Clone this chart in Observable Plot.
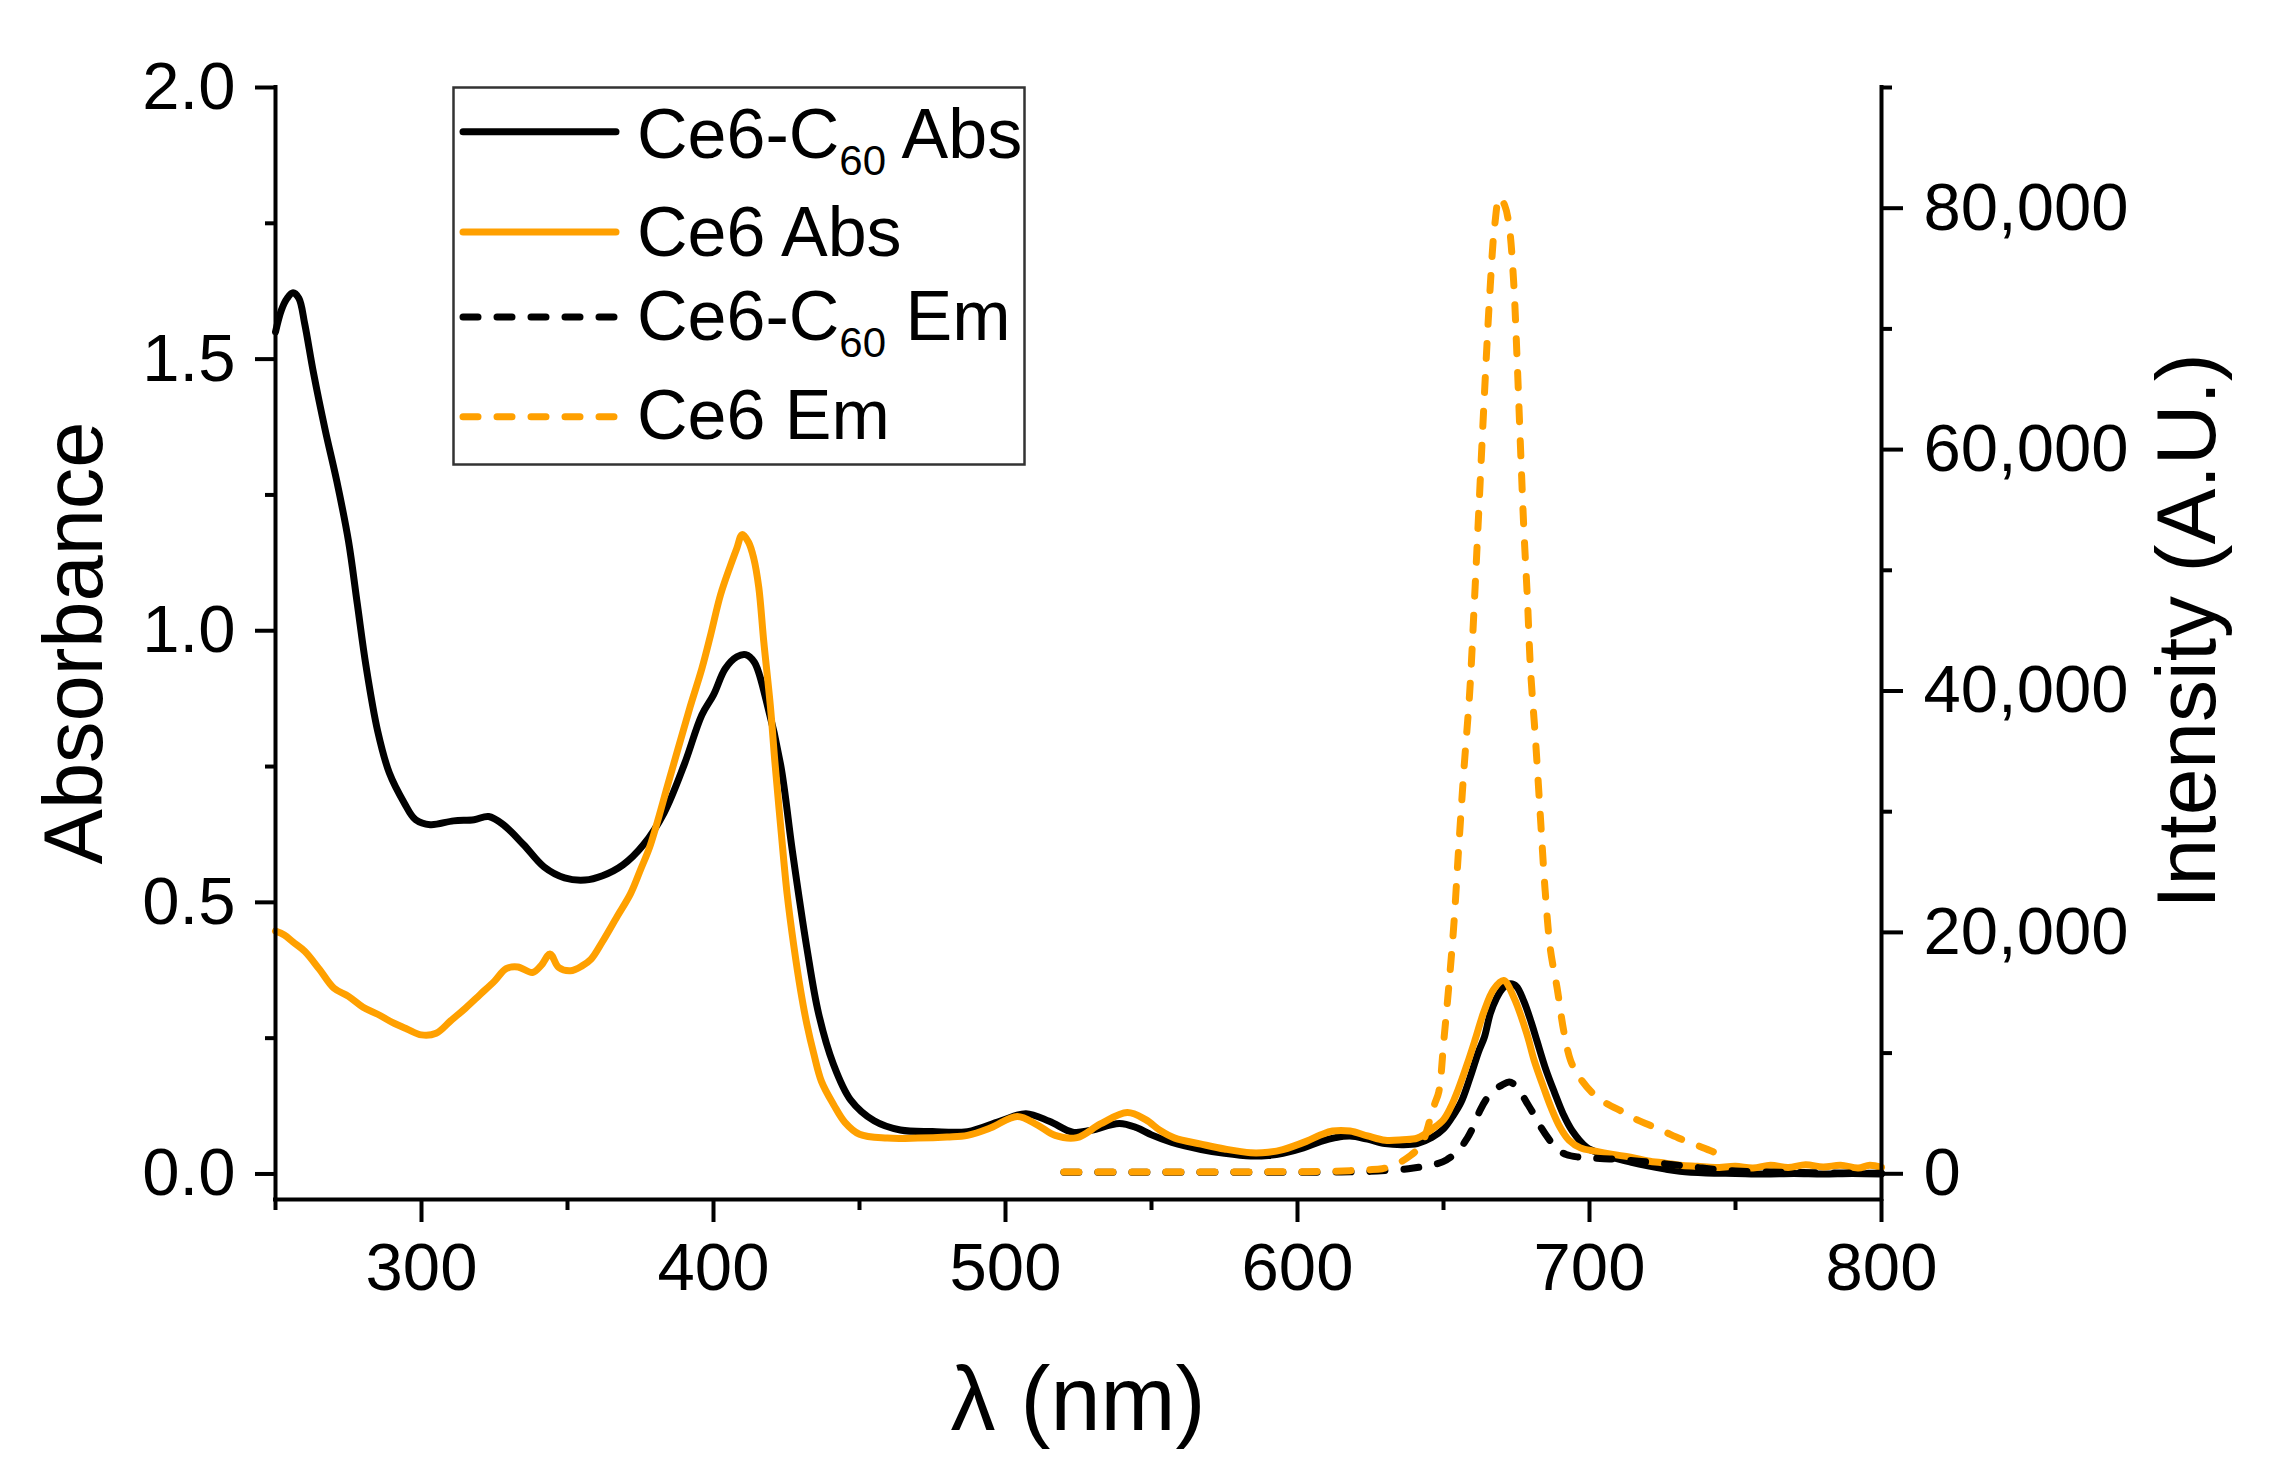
<!DOCTYPE html>
<html><head><meta charset="utf-8">
<script src="https://cdn.jsdelivr.net/npm/d3@7"></script>
<script src="https://cdn.jsdelivr.net/npm/@observablehq/plot@0.6"></script>
<style>body{margin:0;background:#fff}</style>
</head><body><div id="chart"></div>
<script>
// ---- data (wavelength nm, value) ----
const ce6C60Abs = [[250,1.55],[252,1.59],[254,1.612],[256,1.622],[258,1.612],[260,1.565],[263,1.475],[267,1.37],[271,1.275],[275,1.165],[278,1.05],[281,0.935],[285,0.815],[289,0.738],[294,0.684],[298,0.652],[303,0.643],[311,0.65],[318,0.652],[323,0.658],[328,0.643],[335,0.606],[342,0.565],[349,0.545],[356,0.541],[362,0.549],[369,0.569],[376,0.606],[383,0.664],[390,0.754],[396,0.845],[400,0.882],[404,0.93],[408,0.952],[411,0.956],[414,0.942],[418,0.873],[423,0.753],[427,0.595],[432,0.415],[436,0.295],[441,0.203],[447,0.136],[455,0.098],[464,0.081],[475,0.078],[487,0.078],[498,0.097],[507,0.111],[515,0.097],[523,0.077],[529,0.08],[539,0.093],[545,0.085],[550,0.072],[557,0.058],[567,0.045],[575,0.038],[584,0.033],[590,0.034],[595,0.038],[602,0.048],[608,0.06],[613,0.067],[618,0.07],[624,0.064],[630,0.056],[636,0.054],[641,0.056],[646,0.067],[650,0.083],[653,0.105],[656,0.132],[659,0.176],[662,0.225],[664,0.252],[666,0.295],[668,0.322],[670.5,0.343],[673,0.35],[675,0.345],[677.5,0.318],[680,0.28],[682,0.245],[685,0.193],[688,0.15],[691,0.11],[694,0.08],[699,0.049],[704,0.037],[708,0.03],[714,0.022],[720,0.015],[726,0.009],[731,0.005],[740,0.002],[750,0.001],[760,0.0],[770,0.001],[780,0.0],[790,0.001],[800,0.0]];

const ce6Abs = [[250,0.447],[253,0.44],[256,0.427],[260,0.41],[265,0.377],[270,0.342],[275,0.327],[280,0.307],[285,0.294],[290,0.279],[295,0.267],[300,0.256],[305,0.259],[310,0.282],[315,0.305],[320,0.33],[325,0.355],[329,0.378],[333,0.381],[338,0.371],[341,0.384],[344,0.405],[347,0.38],[351,0.374],[355,0.383],[358,0.395],[362,0.428],[367,0.474],[371.6,0.516],[375,0.56],[378.4,0.606],[385,0.729],[392,0.86],[396,0.93],[399,0.992],[402.4,1.066],[405.8,1.12],[408,1.152],[409.8,1.177],[412,1.163],[413.8,1.133],[415.5,1.08],[417.2,0.981],[419.5,0.86],[421,0.76],[423,0.64],[425.2,0.516],[427.5,0.42],[429.8,0.339],[432,0.275],[434.4,0.22],[437,0.17],[441.2,0.127],[445,0.095],[450,0.073],[459.5,0.066],[470,0.066],[480,0.068],[487,0.071],[495,0.085],[504,0.106],[511,0.09],[517,0.071],[524.5,0.067],[532.5,0.092],[541.7,0.113],[548,0.1],[553,0.08],[558,0.066],[567,0.055],[575,0.046],[584,0.039],[590,0.04],[595,0.045],[603,0.06],[608,0.072],[612,0.079],[618,0.079],[624,0.07],[630,0.062],[636,0.063],[641,0.066],[646.7,0.085],[650,0.1],[652.4,0.122],[655,0.155],[658.1,0.202],[661,0.25],[663.8,0.298],[667.2,0.34],[670.6,0.356],[674.1,0.325],[678.6,0.257],[681,0.21],[684.3,0.159],[687,0.12],[690,0.085],[693,0.062],[696.9,0.048],[702,0.042],[708,0.036],[714,0.031],[720,0.024],[726,0.02],[731,0.016],[737,0.014],[743,0.012],[750,0.014],[756,0.011],[762,0.016],[768,0.012],[774,0.017],[780,0.013],[786,0.016],[792,0.011],[796,0.016],[800,0.012]];

const ce6C60Em = [[520,120],[540,120],[560,120],[580,120],[600,130],[615,150],[625,200],[632,300],[638,420],[643,600],[648,850],[651,1150],[655,1900],[658,2900],[660,3800],[662.6,5300],[665,6300],[667.2,6900],[670,7350],[672.5,7600],[674.5,7350],[676.3,6800],[678.5,5900],[681,4900],[683.5,3800],[686.6,2700],[689,2000],[692,1600],[695.8,1400],[700,1320],[708,1220],[715,1080],[720,970],[726,820],[731,690],[737,520],[743,360],[750,240],[760,150],[770,110],[780,80],[790,60],[800,50]];

const ce6Em = [[520,150],[530,150],[540,150],[550,150],[560,150],[570,150],[580,150],[590,160],[600,170],[610,200],[618,260],[624,330],[629,420],[634,800],[638.7,1520],[641,2000],[643,2700],[645.5,4600],[647,5800],[648.4,6800],[650.1,11000],[651.8,15500],[653.5,20500],[655.2,27000],[657,33500],[659,40000],[660.5,47000],[662,54500],[664,64500],[666,73500],[667.5,78500],[669.2,80900],[671,80200],[672.5,78500],[674,74000],[675.2,67500],[676.4,60000],[677.5,53500],[678.7,47800],[679.8,41800],[681.5,36000],[683.2,29500],[684.8,23500],[686.6,18600],[688.9,15400],[691.2,11800],[693.5,9400],[696,8200],[701,6700],[706,5800],[711.7,5100],[716,4500],[720.9,4000],[726,3450],[731.1,2900],[737,2350],[742.6,1800],[745,1600]];

const xMajor = [300,400,500,600,700,800];
const xMinor = [250,350,450,550,650,750];
const absMajor = [0,0.5,1.0,1.5,2.0];
const absMinor = [0.25,0.75,1.25,1.75];
const intMajor = [0,20000,40000,60000,80000];
const intMinor = [10000,30000,50000,70000,90000];
const seriesNames = ["Ce6-C60 Abs","Ce6 Abs","Ce6-C60 Em","Ce6 Em"];

const absDomain = [-0.047, 2.0];
const intDomain = [-2130, 90000];
const ORANGE = "#FFA000";
const FONT = "'Liberation Sans', Arial, Helvetica, sans-serif";

const toAbs = v => absDomain[0] + (v - intDomain[0]) * (absDomain[1]-absDomain[0]) / (intDomain[1]-intDomain[0]);
const fromAbs = a => intDomain[0] + (a - absDomain[0]) * (intDomain[1]-intDomain[0]) / (absDomain[1]-absDomain[0]);
const fmtInt = d3.format(",");

const LW = 7;
const DASH = "15,19";
const plot = Plot.plot({
  width: 2290, height: 1478,
  marginLeft: 275, marginRight: 409, marginTop: 87, marginBottom: 279,
  style: {fontFamily: FONT, fontSize: "67px", background: "#fff", color: "#000", overflow: "visible"},
  x: {domain: [250, 800]},
  y: {domain: absDomain},
  marks: [
    Plot.line(ce6C60Abs, {x: d => d[0], y: d => d[1], stroke: "#000", strokeWidth: LW, curve: "catmull-rom", strokeLinejoin: "round"}),
    Plot.line(ce6Abs, {x: d => d[0], y: d => d[1], stroke: ORANGE, strokeWidth: LW, curve: "catmull-rom", strokeLinejoin: "round"}),
    Plot.line(ce6C60Em, {x: d => d[0], y: d => toAbs(d[1]), stroke: "#000", strokeWidth: LW, strokeDasharray: DASH, strokeLinecap: "round", curve: "catmull-rom"}),
    Plot.line(ce6Em, {x: d => d[0], y: d => toAbs(d[1]), stroke: ORANGE, strokeWidth: LW, strokeDasharray: DASH, strokeLinecap: "round", curve: "catmull-rom"}),
    // spines
    Plot.ruleX([250], {y1: absDomain[0], y2: absDomain[1], strokeWidth: 4, strokeLinecap: "square"}),
    Plot.ruleX([800], {y1: absDomain[0], y2: absDomain[1], strokeWidth: 4, strokeLinecap: "square"}),
    Plot.ruleY([absDomain[0]], {x1: 250, x2: 800, strokeWidth: 4, strokeLinecap: "square"}),
    // axes
    Plot.axisX(xMajor, {tickSize: 23, tickPadding: 20, strokeWidth: 4, label: null, tickFormat: d => String(d)}),
    Plot.axisX(xMinor, {tickSize: 11, strokeWidth: 4, label: null, tickFormat: () => ""}),
    Plot.axisY(absMajor, {anchor: "left", tickSize: 20, tickPadding: 20, strokeWidth: 4, label: null, tickFormat: d3.format(".1f")}),
    Plot.axisY(absMinor, {anchor: "left", tickSize: 10, strokeWidth: 4, label: null, tickFormat: () => ""}),
    Plot.axisY(intMajor.map(toAbs), {anchor: "right", tickSize: 21, tickPadding: 21, strokeWidth: 4, label: null, tickFormat: a => fmtInt(Math.round(fromAbs(a)/1000)*1000)}),
    Plot.axisY(intMinor.map(toAbs), {anchor: "right", tickSize: 10, strokeWidth: 4, label: null, tickFormat: () => ""})
  ]
});
document.getElementById("chart").appendChild(plot);

const svg = d3.select(plot);
svg.append("text").attr("transform", "translate(102,643) rotate(-90)")
  .attr("text-anchor", "middle").attr("font-size", 83).attr("fill", "#000").text("Absorbance");
svg.append("text").attr("transform", "translate(2215,631) rotate(-90)")
  .attr("text-anchor", "middle").attr("font-size", 84).attr("fill", "#000").text("Intensity (A.U.)");
svg.append("text").attr("x", 1078).attr("y", 1430)
  .attr("text-anchor", "middle").attr("font-size", 90).attr("fill", "#000").text("λ (nm)");

// legend
const lg = svg.append("g");
lg.append("rect").attr("x", 453.5).attr("y", 87.5).attr("width", 571).attr("height", 377)
  .attr("fill", "#fff").attr("stroke", "#333").attr("stroke-width", 2.5);
const rows = [
  {name: seriesNames[0], color: "#000", dash: null, lineY: 131.7, base: 158},
  {name: seriesNames[1], color: ORANGE, dash: null, lineY: 232, base: 256},
  {name: seriesNames[2], color: "#000", dash: DASH, lineY: 317, base: 340},
  {name: seriesNames[3], color: ORANGE, dash: DASH, lineY: 416.7, base: 439}
];
rows.forEach(r => {
  const ln = lg.append("line").attr("x1", 463).attr("x2", 616).attr("y1", r.lineY).attr("y2", r.lineY)
    .attr("stroke", r.color).attr("stroke-width", LW).attr("stroke-linecap", "round");
  if (r.dash) ln.attr("stroke-dasharray", DASH);
  const t = lg.append("text").attr("x", 637).attr("y", r.base).attr("font-size", 70)
    .attr("fill", "#000").attr("text-anchor", "start");
  const m = r.name.match(/^(.*C)60(.*)$/);
  if (m) {
    t.append("tspan").text(m[1]);
    t.append("tspan").attr("dy", 17).attr("font-size", 42).text("60");
    t.append("tspan").attr("dy", -17).text(m[2]);
  } else {
    t.text(r.name);
  }
});
</script>
</body></html>
